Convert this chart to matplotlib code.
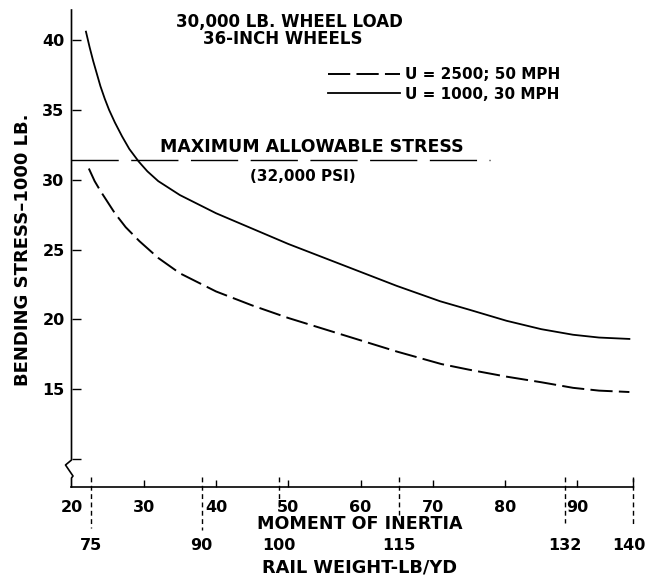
import matplotlib
matplotlib.use("Agg")
import matplotlib.pyplot as plt
from matplotlib.lines import Line2D
from matplotlib.transforms import offset_copy

plt.rcParams["font.family"] = ["DejaVu Sans"]
plt.rcParams["font.weight"] = "bold"
plt.rcParams["lines.scale_dashes"] = False

# ---- data -------------------------------------------------------------
# moment of inertia (in^4) and bending stress (1000 lb)
moi_u1000 = [22.0, 22.5, 23.0, 23.5, 24.0, 24.6, 25.2, 26.0, 27.0, 28.0,
             29.3, 30.5, 32.0, 35.0, 40.0, 45.0, 50.0, 55.0, 60.0, 65.0,
             71.0, 75.0, 80.2, 85.0, 89.4, 93.0, 97.2]
stress_u1000 = [40.6, 39.5, 38.5, 37.6, 36.7, 35.8, 35.0, 34.1, 33.1, 32.2,
                31.3, 30.6, 29.9, 28.9, 27.6, 26.5, 25.4, 24.4, 23.4, 22.4,
                21.3, 20.7, 19.9, 19.3, 18.9, 18.7, 18.6]

moi_u2500 = [22.4, 23.2, 24.0, 25.0, 26.0, 27.5, 29.4, 32.0, 35.0, 40.0,
             45.0, 50.0, 55.0, 60.0, 65.0, 71.2, 75.0, 80.2, 85.0, 89.4,
             93.0, 97.2]
stress_u2500 = [30.8, 29.9, 29.2, 28.4, 27.6, 26.6, 25.6, 24.4, 23.3, 22.0,
                21.0, 20.1, 19.3, 18.5, 17.7, 16.8, 16.4, 15.9, 15.5, 15.1,
                14.9, 14.8]

label_u2500 = "U = 2500; 50 MPH"
label_u1000 = "U = 1000, 30 MPH"

stress_limit = 31.4            # maximum allowable stress line
limit_span = [20.0, 77.9]      # moment-of-inertia extent of that line

moi_ticks = [20, 30, 40, 50, 60, 70, 80, 90]
stress_ticks = [10, 15, 20, 25, 30, 35, 40]
stress_ticklabels = ["", "15", "20", "25", "30", "35", "40"]

rail_weights = ["75", "90", "100", "115", "132", "140"]
rail_moi = [22.7, 38.0, 48.7, 65.3, 88.3, 97.7]

# ---- figure / axes geometry (pixels) ---------------------------------
W, H = 647, 581
L, R, T, B = 71.5, 633, 10, 487
fig = plt.figure(figsize=(W / 100, H / 100), dpi=100)
ax = fig.add_axes([L / W, 1 - B / H, (R - L) / W, (B - T) / H])
ax_h = B - T


def fx(px):
    return px / W


def fy(py):
    return 1 - py / H


ax.set_xlim(20, 97.7)
ax.set_ylim(8.0, 42.15)

for s in ("top", "right", "left"):
    ax.spines[s].set_visible(False)
ax.spines["bottom"].set_linewidth(1.2)

# left spine with a break mark near the bottom
sx = [L, L, L - 6, L + 1.5, L, L]
sy = [T, 460, 465, 476, 478, B]
fig.add_artist(Line2D([fx(v) for v in sx], [fy(v) for v in sy],
                      transform=fig.transFigure, color="black", lw=1.2))

# ticks
ax.set_xticks(moi_ticks)
ax.set_xticklabels([str(v) for v in moi_ticks])
ax.set_yticks(stress_ticks)
ax.set_yticklabels(stress_ticklabels)
ax.tick_params(axis="x", direction="in", length=5, width=1.0, pad=9,
               labelsize=11.5)
ax.tick_params(axis="y", direction="in", length=6.5, width=1.0, pad=5,
               labelsize=11.5)
ax.xaxis.get_major_ticks()[0].tick1line.set_visible(False)

# right end tick
ax.plot([97.7, 97.7], [0, 8 / ax_h], transform=ax.get_xaxis_transform(),
        color="black", lw=1.0, clip_on=False)

# curves
ax.plot(moi_u2500, stress_u2500, color="black", lw=1.4,
        linestyle=(0, (16, 4.5)), label=label_u2500, clip_on=False)
ax.plot(moi_u1000, stress_u1000, color="black", lw=1.3,
        label=label_u1000, clip_on=False)

# maximum allowable stress
ax.plot(limit_span, [stress_limit, stress_limit], color="black", lw=1.0,
        linestyle=(0, (34, 9)), clip_on=False)
fig.text(fx(311.5), fy(146.7), "MAXIMUM ALLOWABLE STRESS", ha="center",
         va="center", fontsize=12.5, fontweight="bold")
fig.text(fx(302.5), fy(177), "(32,000 PSI)", ha="center", va="center",
         fontsize=11, fontweight="bold")

# rail weight guides beneath the axis
guide_bottom = {"75": 528, "90": 530, "100": 508, "115": 515, "132": 523,
                "140": 525}
label_shift = {"140": -4}
xt = ax.get_xaxis_transform()
for rw, m in zip(rail_weights, rail_moi):
    y0 = 10 / ax_h
    y1 = -(guide_bottom[rw] - B) / ax_h
    ax.plot([m, m], [y0, y1], transform=xt, color="black", lw=1.0,
            linestyle=(0, (3.5, 2.5)), clip_on=False)
    ax.text(m, -(546 - B) / ax_h, rw,
            transform=offset_copy(xt, fig=fig, x=label_shift.get(rw, 0),
                                  units="dots"),
            ha="center", va="center", fontsize=11.5, fontweight="bold")

fig.text(fx(359.5), fy(524), "MOMENT OF INERTIA", ha="center", va="center",
         fontsize=12.6, fontweight="bold")
fig.text(fx(359), fy(568), "RAIL WEIGHT-LB/YD", ha="center", va="center",
         fontsize=12.8, fontweight="bold")
fig.text(fx(23.5), fy(250), "BENDING STRESS\u20131000 LB.", ha="center",
         va="center", rotation=90, fontsize=13, fontweight="bold")

# heading
fig.text(fx(289), fy(22.5), "30,000 LB. WHEEL LOAD", ha="center",
         va="center", fontsize=12, fontweight="bold")
fig.text(fx(282.5), fy(39.5), "36-INCH WHEELS", ha="center", va="center",
         fontsize=12, fontweight="bold")

# legend
ax.legend(loc="upper left", bbox_to_anchor=(fx(328), fy(67)),
          bbox_transform=fig.transFigure, frameon=False,
          handlelength=4.7, handletextpad=0.35, labelspacing=0.3,
          borderpad=0, borderaxespad=0,
          prop={"weight": "bold", "size": 11})

fig.savefig("out.png", dpi=100)
